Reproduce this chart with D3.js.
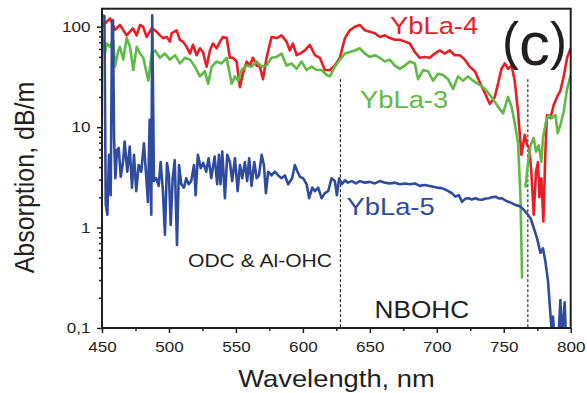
<!DOCTYPE html>
<html>
<head>
<meta charset="utf-8">
<script src="https://cdn.jsdelivr.net/npm/d3@7"></script>
<style>
  html, body { margin: 0; padding: 0; background: #fff; }
  svg { display: block; font-family: "Liberation Sans", Arial, sans-serif; }
</style>
</head>
<body>
<svg id="chart" width="587" height="393"></svg>
<script>
// Absorption spectra (dB/m) of three fibre samples
const ybla4Wl = [450,456,459.7,463.4,468.4,473.1,475.9,478.4,480.6,483.4,
  487.1,490.8,493.3,495.5,498.3,500.7,502,505.7,508.2,510.4,
  513.2,515.7,517.9,520.7,523.1,525.4,528.1,530.6,532.8,535.6,
  538.1,540.3,543.1,545.5,547.8,550.5,553,555.2,558,560.5,
  562.7,565.5,567.9,570.2,572.9,576.6,580.4,584.1,587.8,590.3,
  592.5,595.3,597.8,601.5,605.2,609,612.7,616.4,620.2,623.9,
  627.6,631.4,635.1,638.8,642.5,646.3,650,653.7,657.5,661.2,
  664.9,668.7,672.4,676.1,679.9,683.6,687.3,691.1,694.8,698.5,
  702.2,706,709.7,713.4,717.2,720.9,724.6,728.4,732.1,735.8,
  739.6,743.3,745.7,748.3,750.8,753.2,755.8,758.2,760.7,763.2,
  765.7,767.4,769.1,770.6,772.4,774.1,775.6,776.6,778.1,779.6,
  781.1,782.3,784.9,787.3,789.8,792.3,794.8,797.3,800];
const ybla4Abs = [100,121,93,104,82,96,82,104,100,79,
  97,89,82,77,79,71,86,92,74,71,
  63,54,66,52,61,56,40,58,68,61,
  71,79,77,49,49,45,25,34,45,41,
  49,41,40,30,49,79,77,82,71,58,
  68,52,54,58,66,52,49,37,37,41,
  49,77,92,100,104,92,89,86,79,82,
  77,74,74,71,68,56,49,50,49,54,
  58,54,58,52,52,47,40,36,28,22,
  17,20,27,38,43,38,41,29,14,5.3,
  8.4,6.6,6.2,3.6,1.34,3.6,4.5,2.0,3.1,1.15,
  5.7,13.2,12.3,16.6,20,23,32,49,61];

const ybla3Wl = [450,452.2,453.5,456,458.4,459.7,462.2,463.4,465.9,468.4,
  470.9,473.4,475.9,478.4,480.8,484.6,487.1,489.6,493.3,497,
  500.7,504.5,508.2,511.9,515.7,519.4,523.1,526.8,529.3,531.9,
  535.6,539.3,543.1,546.8,549.3,551.7,554.3,558,561.7,565.5,
  569.2,572.9,576.6,580.4,584.1,587.8,591.6,595.3,599,602.8,
  606.5,610.2,614,617.7,620.2,623.9,627.6,631.4,635.1,638.8,
  642.5,646.3,650,653.7,657.5,661.2,664.9,668.7,672.4,676.1,
  679.9,683.6,686,689.8,693.5,697.2,701,704.7,708.4,712.1,
  715.9,719.6,723.3,727.1,730.8,734.5,738.3,742,745.7,749.5,
  753.2,755.8,758.2,760.7,762.5,763.7,765,766.2,768.2,770,
  772.4,774.1,776.1,778.1,779.3,781.6,783.6,786.1,788.6,790.3,
  792.3,794.8,797.3,800];
// null marks the break where the measurement drops out
const ybla3Abs = [82,54,68,63,74,40,58,63,47,77,
  63,37,63,54,49,29,54,58,49,54,
  47,52,43,49,47,40,32,36,27,40,
  45,43,49,27,32,29,37,41,40,45,
  40,41,49,50,54,41,43,38,45,37,
  40,37,37,33,32,40,47,54,56,58,
  61,54,50,52,49,45,47,41,38,41,
  45,43,30,37,36,29,34,33,30,24,
  32,29,32,29,27,25,22,19,16,13.7,
  20,16,11,6.9,2.0,0.31,null,2.5,4.5,6.6,
  7.8,5.7,6.6,4.5,7.8,11.4,13.2,12.3,13.2,8.7,
  10.5,14.3,24,33];

const ybla5Wl = [450,451.8,452.8,454,455.2,456.5,457.5,458.2,459,460,
  461.2,462.5,464,465.7,466.9,468.9,470.7,472.4,473.9,475.6,
  477.4,479.3,481.3,483.1,484.3,485.6,486.8,487.5,488.8,490.5,
  492.3,493.8,495.5,497,498.5,500,501.3,502.8,504.3,506,
  507.5,509.2,511.2,512.9,514.7,516.6,518.7,519.9,521.6,523.7,
  525.6,527.8,529.6,531.6,534.1,536,537.3,538.5,539.8,541.8,
  543.5,545.5,547.2,549.3,551.3,553,554.7,556.7,558.4,559.9,
  561.7,563.7,565.5,567.2,569.2,570.9,572.4,574.1,576.6,579.1,
  581.6,584.1,586.6,589,592,594,596,597.8,600.2,602.8,
  604.7,607,609,611.4,614,616.4,618.9,621.4,623.9,625.4,
  627.1,629.1,631.4,633.6,636.6,639.6,642.5,646.3,650,653.7,
  657.5,661.2,664.9,668.7,672.4,676.1,679.9,683.6,687.3,691.1,
  696.3,700,703.7,707.5,711.2,713.9,716.4,718.9,721.6,723.9,
  726.1,728.9,731.4,733.8,736.6,738.8,741.1,743.8,746.3,748.7,
  751.5,753.7,756,758.7,762.5,766.2,770,772.4,774.9,777.4,
  779.3,781.1,783.1,784.9,786.1,786.8,787.7,790.6,792.3,793.3,
  795.5,796.6];
const ybla5Abs = [130,128,1.7,1.34,5.3,2.1,112,116,7.8,3.1,
  5.9,6.2,3.2,4.5,7.2,3.6,6.4,2.5,5.3,2.3,
  4.2,3.6,6.9,3.1,1.8,11.8,1.34,130,2.9,3.1,
  2.6,4.5,2.3,0.85,4.4,3.3,1.06,3.1,4.7,0.67,
  4.2,2.7,2.5,3.1,2.7,2.9,4.2,2.1,5.3,3.9,
  4.4,3.6,4.9,3.1,5.1,2.7,5.3,2.7,5.7,1.96,
  5.3,4.5,2.9,4.9,2.3,4.2,3.1,4.5,2.9,4.9,
  2.6,4.5,3.1,3.3,5.3,4.2,2.2,3.6,3.3,3.6,
  3.3,3.1,3.3,2.7,3.1,4.2,3.6,3.2,3.1,2.7,
  1.96,2.5,2.3,2.5,1.96,2.2,2.3,3.1,2.9,2.1,
  3.1,2.7,2.95,2.8,2.9,2.75,2.9,2.8,2.85,2.75,
  2.9,2.8,2.75,2.8,2.7,2.75,2.7,2.75,2.6,2.65,
  2.56,2.5,2.47,2.35,2.2,2.03,2.1,1.8,1.95,1.96,
  1.9,1.96,1.9,1.89,1.95,1.96,2.0,2.03,1.95,1.96,
  1.85,1.8,1.75,1.68,1.62,1.44,1.24,0.99,0.78,0.56,
  0.62,0.46,0.29,0.135,0.08,0.13,0.08,0.07,0.19,0.08,
  0.18,0.07];

const xTicks = [450, 500, 550, 600, 650, 700, 750, 800];
const xMinorTicks = [475, 525, 575, 625, 675, 725, 775];
const yTicks = [0.1, 1, 10, 100];
const yTickLabels = ["0,1", "1", "10", "100"];
const yMinorTicks = [0.2,0.3,0.4,0.5,0.6,0.7,0.8,0.9, 2,3,4,5,6,7,8,9, 20,30,40,50,60,70,80,90];
const bandEdges = [628, 768];   // ODC/Al-OHC | NBOHC | boundaries

const series = [
  { name: "YbLa-4", wl: ybla4Wl, abs: ybla4Abs, color: "#ec1c24" },
  { name: "YbLa-3", wl: ybla3Wl, abs: ybla3Abs, color: "#5fba46" },
  { name: "YbLa-5", wl: ybla5Wl, abs: ybla5Abs, color: "#2e4b9f" }
];

const margin = { left: 102, right: 16.3, top: 8.7, bottom: 65 };
const W = 587, H = 393;
const SX = 1.14;   // horizontal stretch of the lettering

const svg = d3.select("#chart");
const x = d3.scaleLinear().domain([450, 800]).range([margin.left, W - margin.right]);
const y = d3.scaleLog().domain([0.1, 151]).range([H - margin.bottom, margin.top]);

svg.append("defs").append("clipPath").attr("id", "plotClip")
  .append("rect")
  .attr("x", x(450)).attr("y", y(151))
  .attr("width", x(800) - x(450)).attr("height", y(0.1) - y(151));

// band boundaries
svg.append("g").selectAll("line").data(bandEdges).join("line")
  .attr("x1", d => x(d)).attr("x2", d => x(d))
  .attr("y1", y(30)).attr("y2", y(0.1))
  .attr("stroke", "#111").attr("stroke-width", 1)
  .attr("stroke-dasharray", "3,2");

// spectra
const line = d3.line()
  .defined(d => d[1] != null)
  .x(d => x(d[0]))
  .y(d => y(d[1]));

const curves = svg.append("g").attr("clip-path", "url(#plotClip)");
series.forEach(s => {
  curves.append("path")
    .datum(d3.zip(s.wl, s.abs))
    .attr("fill", "none")
    .attr("stroke", s.color)
    .attr("stroke-width", 2.6)
    .attr("stroke-linejoin", "round")
    .attr("d", line);
});

// axes
const tickFont = g => g.selectAll("text")
  .attr("font-size", 15)
  .attr("fill", "#231f20")
  .attr("font-family", "'Liberation Sans', Arial, sans-serif");

const xAxis = svg.append("g").attr("transform", `translate(0,${y(0.1)})`)
  .call(d3.axisBottom(x).tickValues(xTicks).tickSize(5).tickPadding(8).tickFormat(d3.format("d")));
xAxis.call(tickFont);
xAxis.selectAll("text").attr("transform", `scale(${SX},1)`)
  .attr("x", 0);
svg.append("g").attr("transform", `translate(0,${y(0.1)})`)
  .call(d3.axisBottom(x).tickValues(xMinorTicks).tickSize(3).tickFormat(""));

const yAxis = svg.append("g").attr("transform", `translate(${x(450)},0)`)
  .call(d3.axisLeft(y).tickValues(yTicks).tickSize(5).tickPadding(5)
    .tickFormat((d, i) => yTickLabels[i]));
yAxis.call(tickFont);
yAxis.selectAll("text").attr("transform", `scale(${SX},1)`);
svg.append("g").attr("transform", `translate(${x(450)},0)`)
  .call(d3.axisLeft(y).tickValues(yMinorTicks).tickSize(3).tickFormat(""));

svg.selectAll(".domain").remove();
svg.selectAll(".tick line").attr("stroke", "#231f20").attr("stroke-width", 1.5);

// frame
svg.append("rect")
  .attr("x", x(450)).attr("y", y(151))
  .attr("width", x(800) - x(450)).attr("height", y(0.1) - y(151))
  .attr("fill", "none").attr("stroke", "#231f20").attr("stroke-width", 2);

// text helper: stretched horizontally about its anchor
function label(px, py, str, size, color, anchor) {
  return svg.append("text")
    .attr("transform", `translate(${px},${py}) scale(${SX},1)`)
    .attr("text-anchor", anchor || "start")
    .attr("font-size", size)
    .attr("fill", color)
    .text(str);
}

label(390, 34.3, "YbLa-4", 24, series[0].color);
label(360, 108.3, "YbLa-3", 24, series[1].color);
label(346.5, 215, "YbLa-5", 24, series[2].color);
label(188, 266.7, "ODC & Al-OHC", 18.5, "#231f20");
label(374.5, 318.3, "NBOHC", 23, "#231f20");

// panel letter: tall parentheses around a large lowercase c
const panel = svg.append("text")
  .attr("x", 502).attr("y", 59)
  .attr("fill", "#231f20");
panel.append("tspan").attr("font-size", 51).text("(");
panel.append("tspan").attr("font-size", 62).attr("dy", 6).text("c");
panel.append("tspan").attr("font-size", 51).attr("dy", -6).text(")");

// axis titles
label(336.5, 386.5, "Wavelength, nm", 24, "#231f20", "middle");
svg.append("text")
  .attr("transform", `translate(33.5,177.5) rotate(-90) scale(1,${SX})`)
  .attr("text-anchor", "middle")
  .attr("font-size", 25)
  .attr("fill", "#231f20")
  .text("Absorption, dB/m");
</script>
</body>
</html>
